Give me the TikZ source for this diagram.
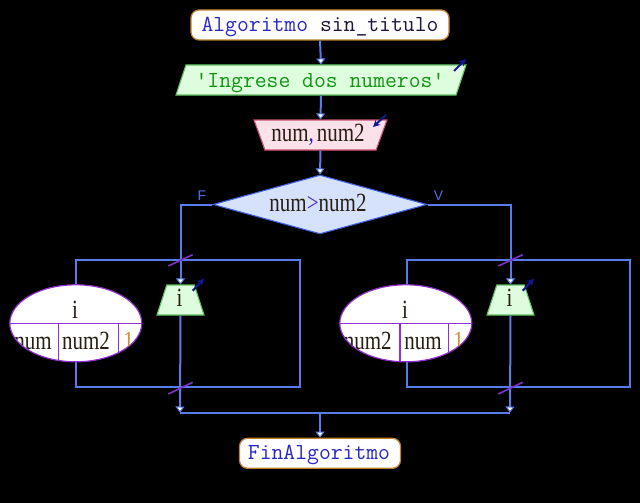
\documentclass[tikz,border=0pt]{standalone}
\usepackage{fontspec}
\usetikzlibrary{shapes.geometric,arrows.meta}
\newfontfamily\seriff{Liberation Serif}
\newfontfamily\sansf{Liberation Sans}
\definecolor{flow}{RGB}{88,124,232}
\definecolor{kwblue}{RGB}{40,40,200}
\definecolor{darktx}{RGB}{30,20,60}
\definecolor{termborder}{RGB}{192,128,48}
\definecolor{outfill}{RGB}{222,252,222}
\definecolor{outborder}{RGB}{96,192,96}
\definecolor{outtext}{RGB}{16,150,16}
\definecolor{infill}{RGB}{252,224,234}
\definecolor{inborder}{RGB}{200,80,110}
\definecolor{decfill}{RGB}{214,226,252}
\definecolor{decborder}{RGB}{64,96,224}
\definecolor{ellpurple}{RGB}{144,48,208}
\definecolor{slashc}{RGB}{130,50,200}
\definecolor{iconc}{RGB}{16,24,150}
\definecolor{numtx}{RGB}{40,30,20}
\definecolor{onec}{RGB}{208,144,48}
\definecolor{flab}{RGB}{80,110,230}
\newcommand{\tallt}[1]{\scalebox{1}[1.25]{#1}}
\begin{document}
\begin{tikzpicture}[x=1pt,y=-1pt,
  flowline/.style={draw=flow, line width=2pt},
  arr/.style={flowline, -{Triangle[width=9pt,length=6pt,fill=white,line width=1pt]}},
  term/.style={draw=termborder, fill=white, line width=1.2pt, rounded corners=8pt, inner sep=0pt},
  outbox/.style={trapezium, draw=outborder, fill=outfill, line width=1.1pt, inner xsep=0pt, inner ysep=15pt, trapezium stretches body},
  inbox/.style={trapezium, draw=inborder, fill=infill, line width=1.1pt, inner xsep=0pt, inner ysep=15pt, trapezium stretches body},
  decbox/.style={diamond, draw=decborder, fill=decfill, line width=1.1pt, inner sep=0pt},
  ellbox/.style={ellipse, draw=ellpurple, fill=white, line width=1.2pt, inner sep=0pt, minimum width=132pt, minimum height=77pt},
  monotx/.style={anchor=base, inner sep=0pt, font=\ttfamily\fontsize{23}{27}\selectfont},
  sertx/.style={anchor=base, inner sep=0pt, font=\seriff\fontsize{21}{25}\selectfont, text=numtx},
  slash/.style={draw=slashc, line width=1.6pt},
  icon/.style={draw=iconc, line width=2pt, -{Stealth[length=7pt,width=7pt]}},
  divl/.style={draw=ellpurple, line width=1.2pt},
  lab/.style={inner sep=0pt, font=\sansf\fontsize{14}{16}\selectfont, text=flab}
]
\path[use as bounding box, fill=black] (0,0) rectangle (640,503);

% loop frames
\coordinate (L1tl) at (76,260);
\coordinate (L1br) at (300,387);
\coordinate (L2tl) at (406.7,260);
\coordinate (L2br) at (630,387);
\draw[flowline] (L1tl) rectangle (L1br);
\draw[flowline] (L2tl) rectangle (L2br);

% nodes
\node[term, minimum width=258pt, minimum height=30pt] (start) at (320,25) {};
\node[monotx] (startt) at (320,31.7) {\textcolor{kwblue}{Algoritmo} \textcolor{darktx}{sin\_titulo}};

\node[outbox, trapezium left angle=71.6, trapezium right angle=108.4, minimum width=290pt] (out1) at (321,80) {};
\node[monotx, text=outtext] (out1t) at (320,87.3) {'Ingrese dos numeros'};

\node[inbox, trapezium left angle=110, trapezium right angle=110, minimum width=133pt] (in1) at (320.5,135) {};
\node[sertx] (in1t) at (318,141.7) {\tallt{num\textcolor{kwblue}{,}\hspace{3pt}num2}};

\node[decbox, minimum width=214pt, minimum height=59pt] (dec) at (320,204.5) {};
\node[sertx] (dect) at (318,211.7) {\tallt{num\textcolor{kwblue!70!ellpurple}{>}num2}};

\node[lab] (fl) at (202,195.5) {F};
\node[lab] (vl) at (438.5,195.5) {V};

\node[outbox, trapezium left angle=72, trapezium right angle=72, minimum width=47pt] (trap1) at (180.5,300) {};
\node[sertx] (trap1t) at (179.5,306) {\tallt{i}};
\node[outbox, trapezium left angle=72, trapezium right angle=72, minimum width=47pt] (trap2) at (510.5,300) {};
\node[sertx] (trap2t) at (509.5,306) {\tallt{i}};

\node[term, minimum width=161pt, minimum height=30pt] (fin) at (320,453.3) {};
\node[monotx, text=kwblue] (fint) at (319,459) {FinAlgoritmo};

% ellipses
\node[ellbox] (ell1) at (75.8,323.3) {};
\node[ellbox] (ell2) at (405.8,323.3) {};
\draw[divl] (ell1.west) -- (ell1.east);
\draw[divl] (ell2.west) -- (ell2.east);
\draw[divl] (58.3,323.3) -- (58.3,359.5);
\draw[divl] (118.3,323.3) -- (118.3,353);
\draw[divl] (400,323.3) -- (400,361);
\draw[divl] (448.3,323.3) -- (448.3,353);
\node[sertx] (e1i) at (75,318.3) {\tallt{i}};
\node[sertx] (e2i) at (405,318.3) {\tallt{i}};
\begin{scope}
\clip (ell1.center) ellipse [x radius=65.3pt, y radius=37.8pt];
\node[sertx] (e1a) at (33,349) {\tallt{num}};
\node[sertx] (e1b) at (86,349) {\tallt{num2}};
\node[sertx, text=onec] (e1c) at (128.5,349) {\tallt{1}};
\end{scope}
\begin{scope}
\clip (ell2.center) ellipse [x radius=65.3pt, y radius=37.8pt];
\node[sertx] (e2a) at (367.7,349) {\tallt{num2}};
\node[sertx] (e2b) at (423,349) {\tallt{num}};
\node[sertx, text=onec] (e2c) at (458.5,349) {\tallt{1}};
\end{scope}

% connectors
\coordinate (j1) at (180,412.5);
\coordinate (j2) at (510,412.5);
\coordinate (jm) at (320,412.5);
\draw[arr] (start.south) -- (out1.north);
\draw[arr] (out1.south) -- (in1.north);
\draw[arr] (in1.south) -- (dec.north);
\draw[arr] (dec.west) -| (trap1.north);
\draw[arr] (dec.east) -| (trap2.north);
\draw[flowline] (j1) -- (j2);
\draw[arr] (trap1.south) -- (j1);
\draw[arr] (trap2.south) -- (j2);
\draw[arr] (jm) -- (fin.north);

% loop marks
\draw[slash] (168.3,266) -- (192.7,254.7);
\draw[slash] (168.3,394) -- (192.7,382.3);
\draw[slash] (498.3,266) -- (522.7,254.7);
\draw[slash] (498.3,394) -- (522.7,382.3);

% io icons
\draw[icon] (454,71) -- (466,59);
\draw[icon] (386,115) -- (373,127);
\draw[icon] (192.7,290.7) -- (204,278.7);
\draw[icon] (522.7,290.7) -- (534,278.7);
\end{tikzpicture}
\end{document}
